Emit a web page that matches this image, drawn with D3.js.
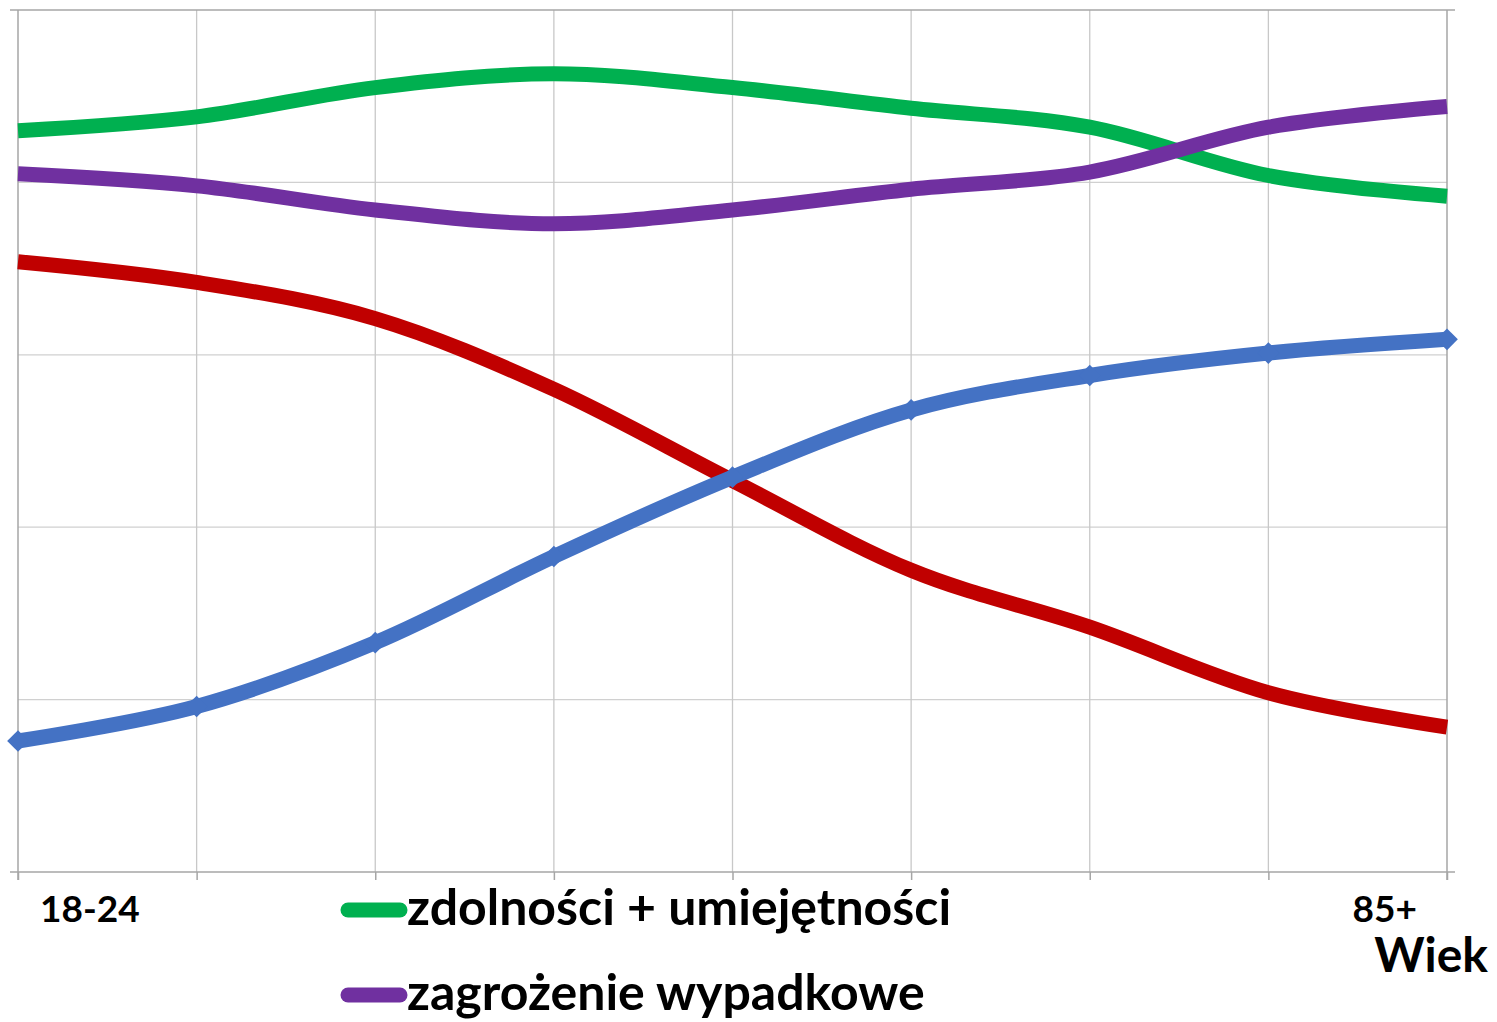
<!DOCTYPE html>
<html>
<head>
<meta charset="utf-8">
<script src="https://cdn.jsdelivr.net/npm/d3@7/dist/d3.min.js"></script>
<style>
  html, body { margin: 0; padding: 0; background: #fff; }
  svg { display: block; }
  text { font-family: Lato, "Open Sans", sans-serif; font-weight: bold; fill: #000; }
</style>
</head>
<body>
<svg id="chart" width="1497" height="1022"></svg>
<script>
// Age groups (only first and last are labelled on the axis)
const categories = ["18-24", "25-34", "35-44", "45-54", "55-64", "65-74", "75-79", "80-84", "85+"];
const tickLabels = { "18-24": "18-24", "85+": "85+" };

// Series values on a 0–5 scale
const zdolnosci   = [4.30, 4.38, 4.55, 4.63, 4.55, 4.43, 4.32, 4.04, 3.92];
const zagrozenie  = [4.05, 3.98, 3.84, 3.76, 3.84, 3.96, 4.06, 4.32, 4.44];
const seriesRed   = [3.54, 3.42, 3.21, 2.80, 2.27, 1.75, 1.42, 1.04, 0.84];
const seriesBlue  = [0.76, 0.96, 1.33, 1.83, 2.29, 2.68, 2.88, 3.01, 3.09];

const seriesNames  = ["zdolności + umiejętności", "zagrożenie wypadkowe", "", ""];
const seriesColors = ["#00B050", "#7030A0", "#C00000", "#4472C4"];
const seriesValues = [zdolnosci, zagrozenie, seriesRed, seriesBlue];
const legendShown  = [true, true, false, false];
const markerShown  = [false, false, false, true];

const yTicks = [0, 1, 2, 3, 4, 5];

const svg = d3.select("#chart");
const plotLeft = 18, plotRight = 1447, plotTop = 10, plotBottom = 872;

const x = d3.scalePoint().domain(categories).range([plotLeft, plotRight]);
const y = d3.scaleLinear().domain([0, 5]).range([plotBottom, plotTop]);

// Horizontal gridlines
svg.append("g").selectAll("line").data(yTicks.slice(1, -1)).join("line")
  .attr("x1", plotLeft).attr("x2", plotRight)
  .attr("y1", d => y(d)).attr("y2", d => y(d))
  .attr("stroke", "#d0d0d0").attr("stroke-width", 1.3);

// Vertical gridlines
svg.append("g").selectAll("line").data(categories.slice(1, -1)).join("line")
  .attr("x1", d => x(d)).attr("x2", d => x(d))
  .attr("y1", plotTop).attr("y2", plotBottom)
  .attr("stroke", "#c8c8c8").attr("stroke-width", 1.3);

// Frame lines
const axisColor = "#a6a6a6";
svg.append("line").attr("x1", plotLeft - 8).attr("x2", plotRight + 8)
  .attr("y1", y(5)).attr("y2", y(5)).attr("stroke", axisColor).attr("stroke-width", 1.5);
svg.append("line").attr("x1", plotLeft).attr("x2", plotLeft)
  .attr("y1", plotTop).attr("y2", plotBottom + 8).attr("stroke", axisColor).attr("stroke-width", 1.5);
svg.append("line").attr("x1", plotRight).attr("x2", plotRight)
  .attr("y1", plotTop).attr("y2", plotBottom + 8).attr("stroke", axisColor).attr("stroke-width", 1.5);

// Category axis with tick marks
const xAxis = d3.axisBottom(x).tickSize(8).tickFormat(() => "");
const gx = svg.append("g").attr("transform", `translate(0,${plotBottom})`).call(xAxis);
gx.select(".domain").remove();
gx.selectAll(".tick line").attr("stroke", axisColor).attr("stroke-width", 1.5);
svg.append("line").attr("x1", plotLeft - 8).attr("x2", plotRight + 8)
  .attr("y1", plotBottom).attr("y2", plotBottom).attr("stroke", axisColor).attr("stroke-width", 1.5);

// Axis labels
svg.append("text").attr("x", x(categories[0]) + 22).attr("y", 922)
  .attr("font-size", 37).text(tickLabels["18-24"]);
svg.append("text").attr("x", x(categories[8]) - 30).attr("y", 922)
  .attr("text-anchor", "end").attr("font-size", 37).text(tickLabels["85+"]);
svg.append("text").attr("x", 1488).attr("y", 972)
  .attr("text-anchor", "end").attr("font-size", 48).text("Wiek");

// Series lines
const line = d3.line()
  .x((d, i) => x(categories[i]))
  .y(d => y(d))
  .curve(d3.curveCardinal.tension(0));

const gLines = svg.append("g");
seriesValues.forEach((vals, s) => {
  gLines.append("path")
    .datum(vals)
    .attr("d", line)
    .attr("fill", "none")
    .attr("stroke", seriesColors[s])
    .attr("stroke-width", 15)
    .attr("stroke-linejoin", "round");
  if (markerShown[s]) {
    gLines.append("g").selectAll("path").data(vals).join("path")
      .attr("transform", (d, i) => `translate(${x(categories[i])},${y(d)})`)
      .attr("d", d3.symbol(d3.symbolDiamond2, 300))
      .attr("fill", seriesColors[s]);
  }
});

// Legend
const legendRows = seriesNames.map((n, i) => ({ name: n, color: seriesColors[i], show: legendShown[i] }))
  .filter(d => d.show);
const lg = svg.append("g");
legendRows.forEach((d, i) => {
  const ly = 910 + i * 85;
  lg.append("line").attr("x1", 348).attr("x2", 400).attr("y1", ly).attr("y2", ly)
    .attr("stroke", d.color).attr("stroke-width", 15).attr("stroke-linecap", "round");
  lg.append("text").attr("x", 407).attr("y", ly + 15)
    .attr("font-size", 50).text(d.name);
});
</script>
</body>
</html>
